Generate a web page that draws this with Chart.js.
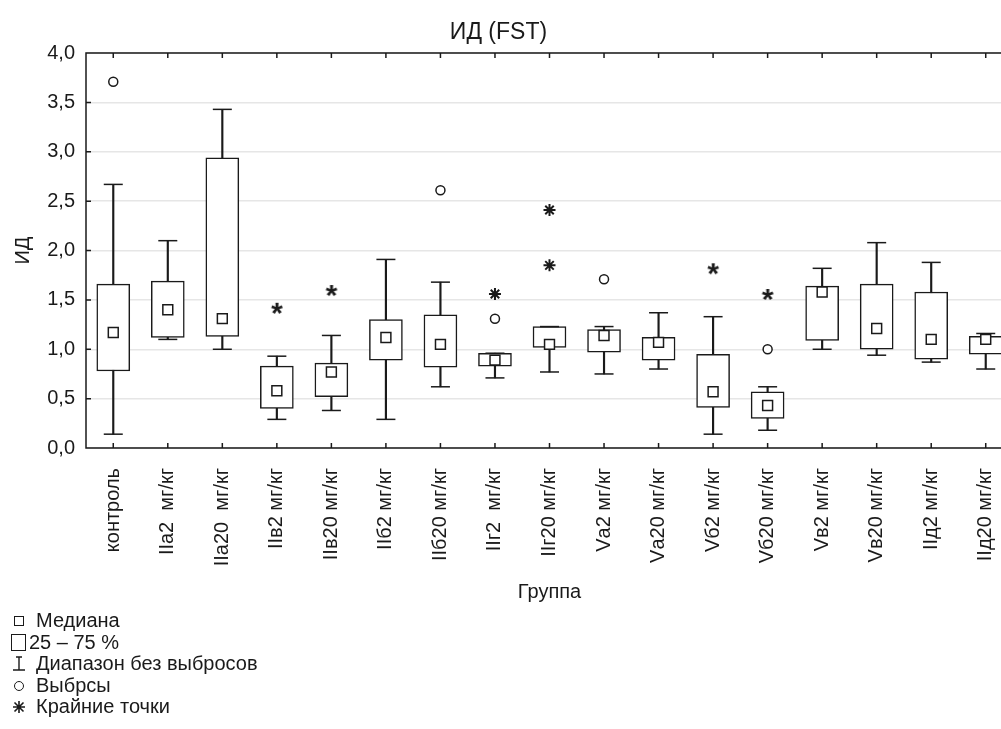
<!DOCTYPE html>
<html lang="ru">
<head>
<meta charset="utf-8">
<title>ИД (FST)</title>
<script src="https://cdn.jsdelivr.net/npm/chart.js@4.4.1/dist/chart.umd.min.js"></script>
<style>
  html, body { margin: 0; padding: 0; background: #fff; overflow: hidden; }
  body { width: 1001px; height: 729px; position: relative; font-family: "Liberation Sans", Arial, sans-serif; color: #1a1a1a; }
  #wrap { position: absolute; left: 0; top: 0; }
  #legend { position: absolute; left: 0; top: 610px; font-size: 20px; line-height: 21.5px; }
  .row { position: relative; height: 21.5px; padding-left: 36px; white-space: nowrap; }
  .row.box { padding-left: 29px; }
  .sym { position: absolute; box-sizing: border-box; border: 1.4px solid #1a1a1a; }
</style>
</head>
<body>
<div id="wrap"><canvas id="chart" width="1024" height="610"></canvas></div>
<div id="legend">
  <div class="row"><span class="sym" style="left:14px;top:6px;width:10px;height:10px"></span>Медиана</div>
  <div class="row box"><span class="sym" style="left:11px;top:2px;width:15px;height:17px"></span>25 – 75 %</div>
  <div class="row"><svg style="position:absolute;left:12px;top:3px" width="14" height="15"><path d="M4 1H10M7 1V14M1 14H13" stroke="#1a1a1a" stroke-width="1.4" fill="none"/></svg>Диапазон без выбросов</div>
  <div class="row"><span class="sym" style="left:14px;top:6px;width:10px;height:10px;border-radius:50%"></span>Выбрсы</div>
  <div class="row"><svg style="position:absolute;left:13px;top:5px" width="12" height="12"><path d="M6 0V12M0 6H12M1.5 1.5L10.5 10.5M10.5 1.5L1.5 10.5" stroke="#1a1a1a" stroke-width="1.6" fill="none"/></svg>Крайние точки</div>
</div>
<script>
const groups = ['контроль', 'IIа2  мг/кг', 'IIа20  мг/кг', 'IIв2 мг/кг', 'IIв20 мг/кг', 'IIб2 мг/кг', 'IIб20 мг/кг', 'IIг2  мг/кг', 'IIг20 мг/кг',
  'Vа2 мг/кг', 'Vа20 мг/кг', 'Vб2 мг/кг', 'Vб20 мг/кг', 'Vв2 мг/кг', 'Vв20 мг/кг', 'IIд2 мг/кг', 'IIд20 мг/кг'];
const q1  = [0.78, 1.12, 1.13, 0.40, 0.52, 0.89, 0.82, 0.83, 1.02, 0.97, 0.89, 0.41, 0.30, 1.09, 1.00, 0.90, 0.95];
const q3  = [1.66, 1.69, 2.94, 0.83, 0.86, 1.30, 1.35, 0.96, 1.23, 1.20, 1.12, 0.95, 0.57, 1.64, 1.66, 1.58, 1.13];
const med = [1.17, 1.40, 1.31, 0.58, 0.77, 1.12, 1.05, 0.89, 1.05, 1.14, 1.07, 0.57, 0.43, 1.58, 1.21, 1.10, 1.10];
const lo  = [0.14, 1.10, 1.00, 0.29, 0.38, 0.29, 0.62, 0.71, 0.77, 0.75, 0.80, 0.14, 0.18, 1.00, 0.94, 0.87, 0.80];
const hi  = [2.67, 2.10, 3.43, 0.93, 1.14, 1.91, 1.68, 0.96, 1.23, 1.23, 1.37, 1.33, 0.62, 1.82, 2.08, 1.88, 1.16];
const outliers = [[3.71], [], [], [], [], [], [2.61], [1.31], [], [1.71], [], [], [1.00], [], [], [], []];
const extremes = [[], [], [], [], [], [], [], [1.56], [2.41, 1.85], [], [], [], [], [], [], [], []];
const extremesBold = [[], [], [], [1.41], [1.59], [], [], [], [], [], [], [1.81], [1.55], [], [], [], []];
const yTicks = [0, 0.5, 1, 1.5, 2, 2.5, 3, 3.5, 4];

const INK = '#1a1a1a';
const pts = list => list.flatMap((vals, i) => vals.map(v => ({ x: groups[i], y: v })));

function boldStar() {
  let c = document.createElement('canvas'); c.width = 18; c.height = 18;
  let g = c.getContext('2d'); g.font = 'bold 30px "Liberation Sans", Arial'; g.fillStyle = INK; g.textAlign = 'center';
  let m = g.measureText('*');
  g.fillText('*', 9, 9 + (m.actualBoundingBoxAscent - m.actualBoundingBoxDescent) / 2);
  return c;
}

// frame + inward tick marks, like the original STATISTICA plot
const frame = {
  id: 'frame',
  afterDraw(chart) {
    const { ctx, chartArea: a, scales: { x, y } } = chart;
    ctx.save(); ctx.strokeStyle = INK; ctx.lineWidth = 1.5; ctx.beginPath();
    ctx.moveTo(a.right + 2, a.top); ctx.lineTo(a.left, a.top); ctx.lineTo(a.left, a.bottom); ctx.lineTo(a.right + 2, a.bottom);
    x.ticks.forEach((t, i) => { let px = x.getPixelForTick(i); ctx.moveTo(px, a.bottom); ctx.lineTo(px, a.bottom - 5); ctx.moveTo(px, a.top); ctx.lineTo(px, a.top + 5); });
    y.ticks.forEach((t, i) => { let py = y.getPixelForTick(i); ctx.moveTo(a.left, py); ctx.lineTo(a.left + 5, py); });
    ctx.stroke(); ctx.restore();
  },
  afterLayout(chart) { chart.titleBlock.left = 0; chart.titleBlock.right = 997; }
};

const pointSet = (data, extra) => Object.assign({ type: 'line', data, showLine: false, borderColor: INK, backgroundColor: '#fff', borderWidth: 1.5 }, extra);

new Chart(document.getElementById('chart'), {
  type: 'bar',
  data: {
    labels: groups,
    datasets: [
      { data: groups.map((g, i) => [lo[i], hi[i]]), backgroundColor: INK, borderWidth: 0, barThickness: 1.5, grouped: false, order: 9 },
      { data: groups.map((g, i) => [q1[i], q3[i]]), backgroundColor: '#fff', borderColor: INK, borderWidth: 1.5, borderSkipped: false, barThickness: 33, grouped: false, order: 8 },
      pointSet(lo, { pointStyle: 'line', pointRadius: 9.5, order: 7 }),
      pointSet(hi, { pointStyle: 'line', pointRadius: 9.5, order: 6 }),
      pointSet(med, { pointStyle: 'rect', pointRadius: 7, order: 5 }),
      pointSet(pts(outliers), { pointStyle: 'circle', pointRadius: 4.5, order: 4 }),
      pointSet(pts(extremes), { pointStyle: 'star', pointRadius: 6, borderWidth: 2, order: 3 }),
      pointSet(pts(extremesBold), { pointStyle: boldStar(), order: 2 })
    ]
  },
  options: {
    responsive: false, devicePixelRatio: 1, animation: false, events: [],
    layout: { padding: 0 },
    plugins: {
      legend: { display: false }, tooltip: { enabled: false },
      title: { display: true, text: 'ИД (FST)', color: INK, font: { family: '"Liberation Sans", Arial', size: 23, weight: 'normal' }, padding: { top: 19, bottom: 6.5 } }
    },
    scales: {
      x: {
        offset: true, grid: { display: false }, border: { display: false },
        ticks: { color: INK, font: { family: '"Liberation Sans", Arial', size: 20 }, minRotation: 90, maxRotation: 90, autoSkip: false, padding: 12 },
        title: { display: true, text: 'Группа', color: INK, font: { family: '"Liberation Sans", Arial', size: 20 }, padding: { top: 0, bottom: 6 } },
        afterFit: s => { s.height = 162; }
      },
      y: {
        min: 0, max: 4,
        grid: { color: '#e6e6e6', lineWidth: 1.5, drawTicks: false }, border: { display: false },
        afterBuildTicks: s => { s.ticks = yTicks.map(v => ({ value: v })); },
        ticks: { color: INK, font: { family: '"Liberation Sans", Arial', size: 20 }, padding: 11, callback: v => v.toFixed(1).replace('.', ',') },
        title: { display: true, text: 'ИД', color: INK, font: { family: '"Liberation Sans", Arial', size: 20 }, padding: { top: 11, bottom: 0 } },
        afterFit: s => { s.width = 86; }
      }
    }
  },
  plugins: [frame]
});
</script>
</body>
</html>
